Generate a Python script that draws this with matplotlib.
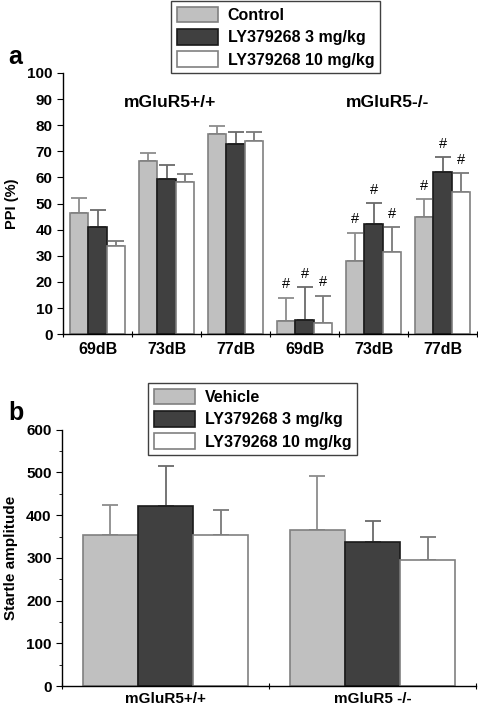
import numpy as np
import matplotlib
matplotlib.use("Agg")
import matplotlib.pyplot as plt
from matplotlib.patches import Patch

plt.rcParams['font.family'] = ['Liberation Sans', 'DejaVu Sans']
plt.rcParams['font.weight'] = 'bold'

# panel a: PPI (%)
ppi_labels = ["69dB", "73dB", "77dB", "69dB", "73dB", "77dB"]
ppi_control = [46.5, 66.3, 76.5, 5.0, 28.2, 44.9]
ppi_control_err = [5.8, 3.2, 3.2, 8.9, 10.6, 6.7]
ppi_ly3 = [40.9, 59.3, 72.8, 5.6, 42.2, 61.9]
ppi_ly3_err = [6.5, 5.6, 4.4, 12.3, 7.9, 5.8]
ppi_ly10 = [33.7, 58.1, 74.0, 4.1, 31.6, 54.6]
ppi_ly10_err = [1.8, 3.1, 3.2, 10.6, 9.4, 7.0]
# '#' markers shown for mGluR5-/- groups (index 3..5)
hash_groups = [3, 4, 5]

# panel b: startle amplitude
startle_labels = ["mGluR5+/+", "mGluR5 -/-"]
startle_vehicle = [353, 366]
startle_vehicle_err = [71, 126]
startle_ly3 = [422, 337]
startle_ly3_err = [93, 49]
startle_ly10 = [353, 295]
startle_ly10_err = [58, 53]

fills = ["#c0c0c0", "#404040", "#ffffff"]
edges = ["#808080", "#1a1a1a", "#808080"]
errcols = ["#8c8c8c", "#6a6a6a", "#7a7a7a"]

fig = plt.figure(figsize=(4.78, 7.08), dpi=100)
axa = fig.add_axes([0.132, 0.528, 0.866, 0.369])
axb = fig.add_axes([0.130, 0.031, 0.866, 0.362])


def draw_bars(ax, series, errs, ngroups):
    w = 0.8 / 3
    x = np.arange(ngroups) + 0.5
    for i, (vals, err) in enumerate(zip(series, errs)):
        xs = x + (i - 1) * w
        ax.bar(xs, vals, width=w, color=fills[i], edgecolor=edges[i],
               linewidth=1.2, zorder=2)
        ax.errorbar(xs, vals, yerr=[np.zeros(ngroups), err], fmt="none",
                    ecolor=errcols[i], elinewidth=1.3, capsize=6,
                    capthick=1.3, zorder=1)
    return x, w


def style_axis(ax, ngroups):
    for s in ["top", "right"]:
        ax.spines[s].set_visible(False)
    ax.spines["left"].set_linewidth(1.0)
    ax.spines["bottom"].set_linewidth(1.0)
    ax.set_xlim(0, ngroups)
    ax.set_xticks(np.arange(ngroups + 1))
    ax.set_xticklabels([])
    ax.tick_params(axis="x", which="major", length=5, direction="inout")
    ax.tick_params(axis="y", which="both", direction="out")
    ax.tick_params(axis="y", which="major", length=4, labelsize=11)
    ax.tick_params(axis="y", which="minor", length=2.5)


def add_legend(handles, labels, x0, y0):
    leg = fig.legend(handles, labels, loc="upper left",
                     bbox_to_anchor=(x0 / 478, 1 - y0 / 708),
                     frameon=True, fancybox=False, edgecolor="#404040",
                     fontsize=11.5, handlelength=2.6, handleheight=1.15,
                     borderpad=0.35, labelspacing=0.38, handletextpad=0.6,
                     borderaxespad=0, framealpha=1)
    leg.get_frame().set_linewidth(1.0)
    return leg


# ---- panel a ----
x, w = draw_bars(axa, [ppi_control, ppi_ly3, ppi_ly10],
                 [ppi_control_err, ppi_ly3_err, ppi_ly10_err], 6)
style_axis(axa, 6)
axa.set_ylim(0, 100)
axa.set_yticks(np.arange(0, 101, 10))
axa.set_ylabel("PPI (%)", fontsize=10.5, fontweight="bold", labelpad=6)
for xi, lab in zip(x, ppi_labels):
    axa.text(xi, -3, lab, ha="center", va="top", fontsize=11.5,
             fontweight="bold")
for g in hash_groups:
    for i, (vals, err) in enumerate(zip([ppi_control, ppi_ly3, ppi_ly10],
                                        [ppi_control_err, ppi_ly3_err, ppi_ly10_err])):
        axa.text(x[g] + (i - 1) * w, vals[g] + err[g] + 2.5, "#",
                 ha="center", va="bottom", fontsize=10.5, fontweight="normal")
axa.text(1.55, 88.5, "mGluR5+/+", ha="center", va="center", fontsize=12.5,
         fontweight="bold")
axa.text(4.7, 88.5, "mGluR5-/-", ha="center", va="center", fontsize=12.5,
         fontweight="bold")

hand = [Patch(facecolor=fills[i], edgecolor=edges[i], linewidth=1.2)
        for i in range(3)]
add_legend(hand, ["Control", "LY379268 3 mg/kg", "LY379268 10 mg/kg"], 171, 1)

fig.text(8 / 478, 1 - 57 / 708, "a", fontsize=18, fontweight="bold",
         va="center", ha="left")

# ---- panel b ----
x, w = draw_bars(axb, [startle_vehicle, startle_ly3, startle_ly10],
                 [startle_vehicle_err, startle_ly3_err, startle_ly10_err], 2)
style_axis(axb, 2)
axb.set_ylim(0, 600)
axb.set_yticks(np.arange(0, 601, 100))
axb.set_yticks(np.arange(50, 600, 100), minor=True)
axb.set_ylabel("Startle amplitude", fontsize=11, fontweight="bold",
               labelpad=6)
for xi, lab in zip(x, startle_labels):
    axb.text(xi, -15, lab, ha="center", va="top", fontsize=11,
             fontweight="bold")

add_legend(hand, ["Vehicle", "LY379268 3 mg/kg", "LY379268 10 mg/kg"], 148, 383)

fig.text(8 / 478, 1 - 413 / 708, "b", fontsize=18, fontweight="bold",
         va="center", ha="left")

fig.savefig("out.png", dpi=100)
